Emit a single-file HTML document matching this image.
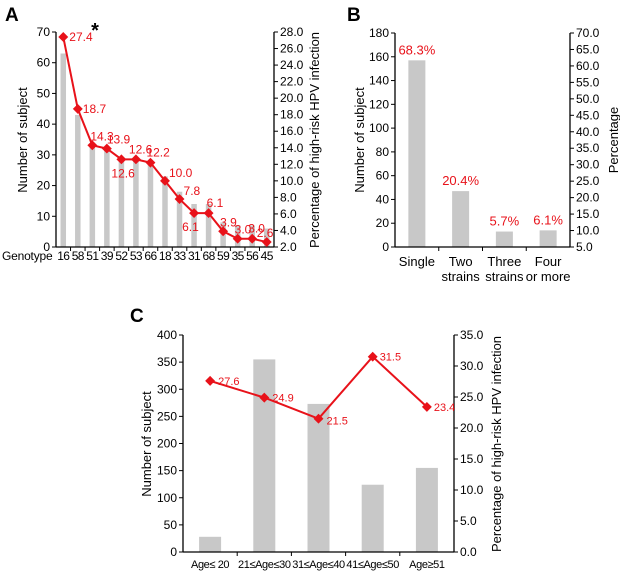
<!DOCTYPE html>
<html><head><meta charset="utf-8"><style>
body{margin:0;background:#fff}
svg{display:block;font-family:"Liberation Sans",Arial,sans-serif}
</style></head><body>
<svg id="s" width="620" height="571" viewBox="0 0 620 571"></svg>
<script>
// Panel A data
const aCats=["16","58","51","39","52","53","66","18","33","31","68","59","35","56","45"];
const aCounts=[63,43,33,32,29,28.5,27,23,18,14,14,8,7,7,6];
const aPct=[27.4,18.7,14.3,13.9,12.6,12.6,12.2,10.0,7.8,6.1,6.1,3.9,3.0,3.0,2.6];
const aLeftTicks=[0,10,20,30,40,50,60,70];
const aRightTicks=[2,4,6,8,10,12,14,16,18,20,22,24,26,28];
// Panel B data
const bCats=[["Single"],["Two","strains"],["Three","strains"],["Four","or more"]];
const bCounts=[157,47,13,14];
const bPctLabels=["68.3%","20.4%","5.7%","6.1%"];
const bLeftTicks=[0,20,40,60,80,100,120,140,160,180];
const bRightTicks=[5,10,15,20,25,30,35,40,45,50,55,60,65,70];
// Panel C data
const cCats=["Age\u2264 20","21\u2264Age\u226430","31\u2264Age\u226440","41\u2264Age\u226450","Age\u226551"];
const cCounts=[28,355,273,124,155];
const cPct=[27.6,24.9,21.5,31.5,23.4];
const cLeftTicks=[0,50,100,150,200,250,300,350,400];
const cRightTicks=[0,5,10,15,20,25,30,35];

const S=document.getElementById('s');
const NS='http://www.w3.org/2000/svg';
function mk(tag,attrs,name,parent){const e=document.createElementNS(NS,tag);for(const k in attrs)e.setAttribute(k,attrs[k]);


(parent||S).appendChild(e);return e;}
function txt(x,y,t,name,o){o=o||{};const e=mk('text',Object.assign({x:x,y:y,'font-size':o.fs||12,fill:o.fill||'#000','text-anchor':o.anchor||'middle'},o.extra||{}),name);e.textContent=t;return e;}
function lin(min,max,p0,p1){return v=>p0+(v-min)/(max-min)*(p1-p0);}

function panel(cfg){
  const {x0,x1,y0,y1,n,lmin,lmax,rmin,rmax,lt,rt,barW,name}=cfg;
  const bw=(x1-x0)/n;
  const xc=i=>x0+bw*(i+0.5);
  const yl=lin(lmin,lmax,y0,y1), yr=lin(rmin,rmax,y0,y1);
  cfg.counts.forEach((v,i)=>{mk('rect',{x:xc(i)-barW/2,y:yl(v),width:barW,height:y0-yl(v),fill:'#c8c8c8'},name+'-bar-'+i);});
  mk('line',{x1:x0,y1:y0,x2:x0,y2:y1,stroke:'#000','stroke-width':1.3},name+'-left-axis');
  mk('line',{x1:x1,y1:y0,x2:x1,y2:y1,stroke:'#000','stroke-width':1.3},name+'-right-axis');
  mk('line',{x1:x0,y1:y0,x2:x1,y2:y0,stroke:'#000','stroke-width':1.3},name+'-x-axis');
  for(let i=1;i<n;i++)mk('line',{x1:x0+bw*i,y1:y0,x2:x0+bw*i,y2:y0+4,stroke:'#000'},name+'-x-tick');
  lt.forEach(v=>{mk('line',{x1:x0-4,y1:yl(v),x2:x0,y2:yl(v),stroke:'#000'},name+'-left-tick');txt(x0-6,yl(v)+4,String(v),name+'-left-tick-label',{anchor:'end'});});
  rt.forEach(v=>{mk('line',{x1:x1,y1:yr(v),x2:x1+4,y2:yr(v),stroke:'#000'},name+'-right-tick');txt(x1+6,yr(v)+4,v.toFixed(1),name+'-right-tick-label',{anchor:'start'});});
  if(cfg.pct){
    const pts=cfg.pct.map((v,i)=>[xc(i),yr(v)]);
    mk('polyline',{points:pts.map(p=>p.join(',')).join(' '),fill:'none',stroke:'#e8121a','stroke-width':2},name+'-line');
    pts.forEach((p,i)=>{mk('rect',{x:p[0]-3.5,y:p[1]-3.5,width:7,height:7,fill:'#e8121a',transform:`rotate(45 ${p[0]} ${p[1]})`},name+'-point-'+i);
      const o=cfg.lblOff[i];txt(p[0]+o[0],p[1]+o[1],cfg.pct[i].toFixed(1),name+'-value-label',{fill:'#e8121a',anchor:'start',fs:cfg.lfs||12});});
  }
  return {xc,yl,yr,bw};
}

// Panel A
txt(5,21,"A","panel-a-letter",{anchor:'start',fs:19,extra:{'font-weight':'bold'}});
const A=panel({x0:56,x1:274,y0:247,y1:32,n:15,lmin:0,lmax:70,rmin:2,rmax:28,lt:aLeftTicks,rt:aRightTicks,barW:5.5,name:'a',
 counts:aCounts,pct:aPct,
 lblOff:[[6,4],[5,4],[-2,-5],[0,-5],[-10,18],[-7,-6],[-4,-6],[4,-4],[4,-4],[-12,18],[-2,-6],[-3,-5],[-3,-5],[-4,-6],[-10,-5]]});
txt(95,37,"*","asterisk",{fs:20,extra:{'font-weight':'bold'}});
txt(2,260,"Genotype","x-axis-title-a",{anchor:'start',fs:12,extra:{'letter-spacing':'-0.2'}});
aCats.forEach((c,i)=>txt(A.xc(i),260,c,'a-x-label',{fs:12,extra:{'letter-spacing':'-0.6'}}));
txt(0,0,"Number of subject","a-left-axis-title",{fs:13,extra:{transform:'translate(27,140) rotate(-90)'}});
txt(0,0,"Percentage of high-risk HPV infection","a-right-axis-title",{fs:13,extra:{transform:'translate(319,140) rotate(-90)'}});

// Panel B
txt(347,21,"B","panel-b-letter",{anchor:'start',fs:19,extra:{'font-weight':'bold'}});
const B=panel({x0:395,x1:570,y0:247,y1:33,n:4,lmin:0,lmax:180,rmin:5,rmax:70,lt:bLeftTicks,rt:bRightTicks,barW:17,name:'b',counts:bCounts});
bCounts.forEach((v,i)=>txt(B.xc(i),B.yl(v)-6,bPctLabels[i],'b-value-label',{fill:'#e8121a',fs:13}));
bCats.forEach((c,i)=>c.forEach((l,j)=>txt(B.xc(i),266+j*15,l,'b-x-label',{fs:13})));
txt(0,0,"Number of subject","b-left-axis-title",{fs:13,extra:{transform:'translate(364,140) rotate(-90)'}});
txt(0,0,"Percentage","b-right-axis-title",{fs:13,extra:{transform:'translate(618,140) rotate(-90)'}});

// Panel C
txt(130,322,"C","panel-c-letter",{anchor:'start',fs:19,extra:{'font-weight':'bold'}});
const C=panel({x0:183,x1:454,y0:552,y1:335,n:5,lmin:0,lmax:400,rmin:0,rmax:35,lt:cLeftTicks,rt:cRightTicks,barW:22,name:'c',
 counts:cCounts,pct:cPct,lfs:11,lblOff:[[8,4],[8,4],[8,6],[7,4],[7,4]]});
cCats.forEach((c,i)=>txt(C.xc(i),568,c,'c-x-label',{fs:11,extra:{'letter-spacing':'-0.4'}}));
txt(0,0,"Number of subject","c-left-axis-title",{fs:13,extra:{transform:'translate(151,444) rotate(-90)'}});
txt(0,0,"Percentage of high-risk HPV infection","c-right-axis-title",{fs:13,extra:{transform:'translate(501,444) rotate(-90)'}});
</script>
</body></html>
